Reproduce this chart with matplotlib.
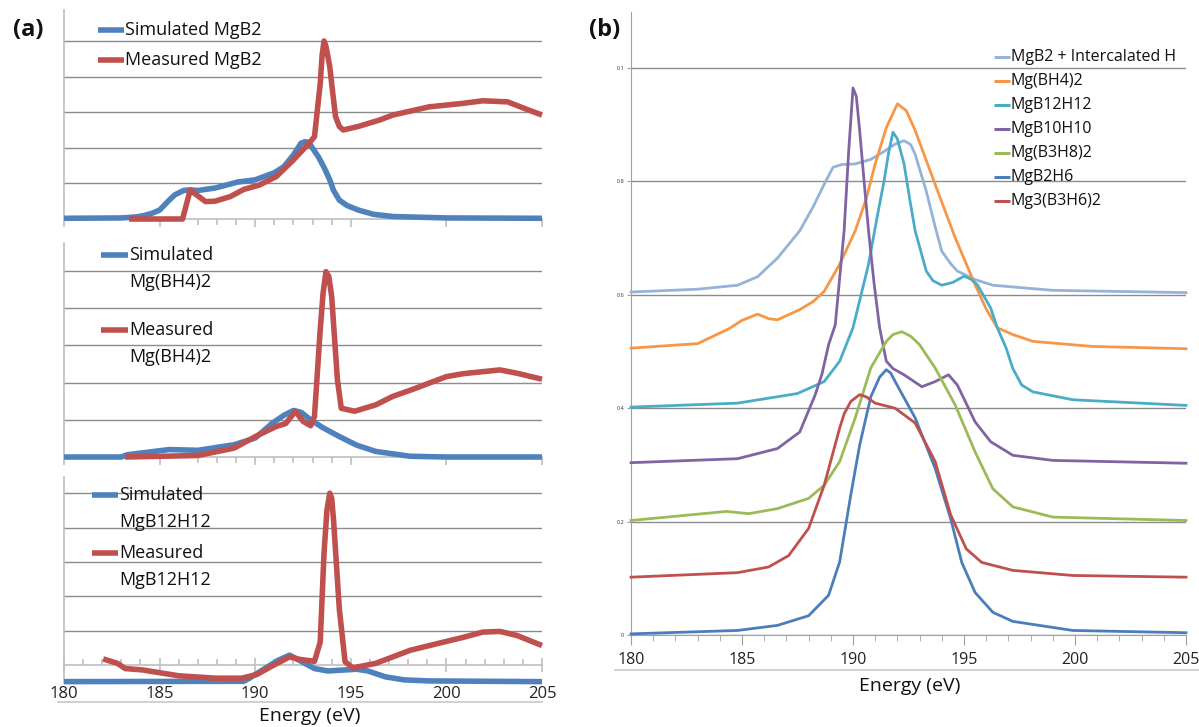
import matplotlib
matplotlib.use('Agg')
import matplotlib.pyplot as plt
from matplotlib.lines import Line2D

plt.rcParams['font.family'] = ['Open Sans', 'DejaVu Sans']

# ---------------- data: panel (a) ----------------
sim_mgb2_x = [180, 183, 183.8, 184.2, 184.6, 185, 185.5, 185.8, 186.25, 186.6, 187, 187.9, 189.1, 190, 191, 191.5, 192.0, 192.4, 192.6, 192.8, 193.3, 193.6, 193.9, 194.1, 194.4, 194.8, 195.4, 196.2, 197.2, 200, 205]
sim_mgb2_y = [0.02, 0.03, 0.06, 0.1, 0.16, 0.25, 0.53, 0.68, 0.8, 0.82, 0.8, 0.87, 1.04, 1.1, 1.3, 1.47, 1.8, 2.13, 2.17, 2.15, 1.75, 1.45, 1.1, 0.8, 0.53, 0.38, 0.25, 0.13, 0.07, 0.03, 0.02]
meas_mgb2_x = [183.4, 186.2, 186.6, 187.4, 187.9, 188.7, 189.4, 190.2, 191.1, 192.0, 192.8, 193.1, 193.4, 193.5, 193.6, 193.7, 193.9, 194.0, 194.2, 194.4, 194.6, 195.4, 196.5, 197.2, 199.1, 200.9, 201.9, 203.2, 204.3, 205]
meas_mgb2_y = [0.0, 0.0, 0.81, 0.49, 0.5, 0.63, 0.83, 0.95, 1.19, 1.66, 2.12, 2.31, 3.8, 4.6, 5.0, 4.85, 4.28, 3.8, 2.88, 2.6, 2.5, 2.6, 2.78, 2.92, 3.15, 3.25, 3.32, 3.29, 3.06, 2.92]

sim_bh4_x = [180, 183.0, 183.3, 185.5, 187, 188.9, 190, 190.9, 191.5, 192, 192.4, 192.9, 193.5, 194.4, 195.3, 196.3, 198.1, 200, 205]
sim_bh4_y = [0.0, 0.0, 0.06, 0.2, 0.18, 0.33, 0.51, 0.91, 1.12, 1.25, 1.2, 1.0, 0.8, 0.55, 0.32, 0.15, 0.02, 0.0, 0.0]
meas_bh4_x = [183.2, 187, 188.9, 190.2, 191.1, 191.6, 192.1, 192.5, 192.9, 193.1, 193.4, 193.55, 193.7, 193.85, 194.0, 194.3, 194.5, 195.2, 196.3, 197.2, 198.2, 200, 200.9, 202.8, 203.7, 205]
meas_bh4_y = [0, 0.04, 0.24, 0.6, 0.82, 0.9, 1.23, 0.96, 0.84, 1.09, 3.42, 4.4, 4.98, 4.85, 4.31, 2.08, 1.31, 1.23, 1.4, 1.63, 1.81, 2.16, 2.24, 2.34, 2.25, 2.09]

sim_b12_x = [180, 189.4, 189.7, 190.5, 191.2, 191.8, 192.3, 193.1, 193.8, 195.3, 195.9, 196.8, 197.8, 199.1, 205]
sim_b12_y = [-0.48, -0.47, -0.38, -0.1, 0.14, 0.29, 0.14, -0.1, -0.17, -0.12, -0.17, -0.34, -0.43, -0.46, -0.48]
meas_b12_x = [182.05, 182.8, 183.2, 184.1, 186, 187.9, 189.3, 190.1, 190.8, 191.8, 192.3, 193.1, 193.4, 193.6, 193.75, 193.9, 194.0, 194.1, 194.4, 194.7, 195.1, 196.3, 197.2, 198.1, 200, 200.9, 201.9, 202.8, 203.7, 205]
meas_b12_y = [0.18, 0.05, -0.1, -0.14, -0.31, -0.38, -0.38, -0.27, -0.05, 0.24, 0.17, 0.11, 0.67, 3.26, 4.5, 5.0, 4.85, 4.2, 1.63, 0.1, -0.08, 0.05, 0.24, 0.43, 0.69, 0.81, 0.96, 0.98, 0.86, 0.57]

labels_a = [("Simulated MgB2", "Measured MgB2"),
            ("Simulated\nMg(BH4)2", "Measured\nMg(BH4)2"),
            ("Simulated\nMgB12H12", "Measured\nMgB12H12")]

# ---------------- data: panel (b) ----------------
b_names = ["MgB2 + Intercalated H", "Mg(BH4)2", "MgB12H12", "MgB10H10", "Mg(B3H8)2", "MgB2H6", "Mg3(B3H6)2"]
b_colors = ["#95B3D7", "#F79646", "#4BACC6", "#8064A2", "#9BBB59", "#4A7EBB", "#C0504D"]

mgb2h_x = [180, 183, 184.8, 185.7, 186.6, 187.6, 188.2, 188.7, 189.1, 189.5, 190.1, 190.8, 191.4, 191.9, 192.3, 192.6, 192.8, 193.3, 193.7, 194.0, 194.4, 194.7, 195.5, 196.3, 199, 205]
mgb2h_y = [0.605, 0.61, 0.617, 0.632, 0.665, 0.713, 0.755, 0.795, 0.825, 0.83, 0.831, 0.839, 0.853, 0.866, 0.872, 0.865, 0.848, 0.783, 0.72, 0.677, 0.655, 0.642, 0.627, 0.617, 0.608, 0.604]
bh4_x = [180, 183, 184.4, 185.0, 185.7, 186.2, 186.6, 187.6, 188.2, 188.7, 189.4, 190.1, 190.6, 191, 191.5, 192, 192.4, 192.8, 193.7, 194.6, 195.5, 196.0, 196.5, 197.2, 198.1, 200.8, 205]
bh4_y = [0.506, 0.514, 0.54, 0.555, 0.566, 0.558, 0.556, 0.574, 0.588, 0.606, 0.654, 0.713, 0.77, 0.831, 0.895, 0.937, 0.925, 0.89, 0.795, 0.701, 0.618, 0.575, 0.542, 0.53, 0.518, 0.509, 0.505]
b12_x = [180, 184.8, 187.5, 188.7, 189.4, 190.0, 190.7, 191.1, 191.4, 191.6, 191.8, 192.0, 192.3, 192.55, 192.8, 193.3, 193.6, 194.0, 194.5, 195.0, 195.3, 195.6, 196.2, 196.5, 196.9, 197.2, 197.6, 198.1, 199.9, 205]
b12_y = [0.402, 0.409, 0.426, 0.447, 0.483, 0.542, 0.654, 0.74, 0.801, 0.85, 0.887, 0.875, 0.831, 0.77, 0.713, 0.642, 0.625, 0.617, 0.622, 0.633, 0.628, 0.618, 0.577, 0.542, 0.506, 0.47, 0.441, 0.429, 0.415, 0.405]
b10_x = [180, 184.8, 186.6, 187.6, 188.3, 188.6, 188.9, 189.2, 189.6, 189.8, 190.0, 190.15, 190.3, 190.5, 190.7, 190.95, 191.2, 191.5, 191.8, 192.3, 193.1, 193.7, 194.3, 194.7, 195.5, 196.2, 197.2, 199, 205]
b10_y = [0.304, 0.311, 0.329, 0.358, 0.424, 0.46, 0.512, 0.547, 0.713, 0.85, 0.965, 0.95, 0.89, 0.8, 0.713, 0.62, 0.542, 0.483, 0.47, 0.459, 0.438, 0.447, 0.459, 0.441, 0.376, 0.341, 0.317, 0.308, 0.303]
b3h8_x = [180, 184.3, 185.3, 186.6, 188, 188.7, 189.4, 190.1, 190.8, 191.5, 191.8, 192.2, 192.6, 193, 193.7, 194.6, 195.5, 196.3, 197.2, 199, 205]
b3h8_y = [0.202, 0.218, 0.214, 0.223, 0.241, 0.264, 0.306, 0.383, 0.471, 0.518, 0.53, 0.535, 0.527, 0.512, 0.471, 0.406, 0.323, 0.258, 0.226, 0.208, 0.202]
b2h6_x = [180, 184.8, 186.6, 188, 188.9, 189.4, 189.9, 190.3, 190.8, 191.2, 191.5, 191.7, 191.9, 192.8, 193.7, 194.4, 194.9, 195.5, 196.3, 197.2, 199.9, 205]
b2h6_y = [0.002, 0.008, 0.017, 0.034, 0.07, 0.129, 0.247, 0.335, 0.42, 0.455, 0.468, 0.462, 0.447, 0.383, 0.294, 0.205, 0.128, 0.075, 0.04, 0.024, 0.008, 0.004]
b3h6_x = [180, 184.8, 186.2, 187.1, 188, 188.7, 189.4, 189.6, 189.9, 190.3, 190.6, 191, 191.9, 192.8, 193.7, 194.4, 195.1, 195.8, 197.2, 199.9, 205]
b3h6_y = [0.102, 0.11, 0.12, 0.14, 0.188, 0.264, 0.365, 0.39, 0.412, 0.424, 0.42, 0.409, 0.4, 0.374, 0.306, 0.212, 0.152, 0.128, 0.114, 0.105, 0.102]

x_major = [180, 185, 190, 195, 200, 205]
b_yticks = [0, 0.2, 0.4, 0.6, 0.8, 1.0]
b_yticklabels = ["0", "0.2", "0.4", "0.6", "0.8", "0.1"]

# ---------------- figure ----------------
W, H = 1199, 727
fig = plt.figure(figsize=(W / 100, H / 100), dpi=100)


def fx(px):
    return px / W


def fy(py):
    return 1 - py / H


def axes_px(x0, y0, x1, y1):
    return fig.add_axes([x0 / W, 1 - y1 / H, (x1 - x0) / W, (y1 - y0) / H])


BLUE = "#4F81BD"
RED = "#C0504D"
GRID = "#8c8c8c"
SPINE = "#bfbfbf"
LW_A = 4.0

left_specs = [
    ((64, 10, 542, 219), (0, 5.87), sim_mgb2_x, sim_mgb2_y, meas_mgb2_x, meas_mgb2_y),
    ((64, 243, 542, 457), (0, 5.75), sim_bh4_x, sim_bh4_y, meas_bh4_x, meas_bh4_y),
    ((64, 477, 542, 683), (-0.52, 5.47), sim_b12_x, sim_b12_y, meas_b12_x, meas_b12_y),
]

for i, (box, ylim, sx, sy, mx, my) in enumerate(left_specs):
    ax = axes_px(*box)
    ax.set_xlim(180, 205)
    ax.set_ylim(*ylim)
    ax.plot(sx, sy, color=BLUE, lw=LW_A, clip_on=False, solid_capstyle='butt',
            solid_joinstyle='round', zorder=3)
    ax.plot(mx, my, color=RED, lw=LW_A, clip_on=False, solid_capstyle='butt',
            solid_joinstyle='round', zorder=4)
    ax.set_yticks([1, 2, 3, 4, 5])
    ax.tick_params(axis='y', length=0, labelleft=False)
    ax.yaxis.grid(True, color=GRID, lw=1)
    ax.set_axisbelow(True)
    for s in ('top', 'right'):
        ax.spines[s].set_visible(False)
    ax.spines['left'].set_color(SPINE)
    ax.spines['left'].set_linewidth(1.2)
    ax.spines['bottom'].set_color(SPINE)
    ax.spines['bottom'].set_linewidth(1.2)
    ax.set_xticks(x_major)
    if i < 2:
        ax.set_xticks([187, 188, 189, 191, 192, 193, 194], minor=True)
        ax.tick_params(axis='x', which='major', direction='out', length=6, color=SPINE, width=1.2,
                       labelbottom=False)
        ax.tick_params(axis='x', which='minor', direction='out', length=4, color=SPINE, width=1.2)
    else:
        ax.spines['bottom'].set_position(('data', 0))
        ax.set_xticks([v for v in range(181, 205) if v % 5 != 0], minor=True)
        ax.tick_params(axis='x', which='major', direction='inout', length=10, color=SPINE, width=1.2,
                       labelsize=12, pad=10, labelcolor='#222222')
        ax.tick_params(axis='x', which='minor', direction='in', length=4, color=SPINE, width=1.2)

# left legends
leg_a = [
    [(98, 124, 30, labels_a[0][0], BLUE), (98, 124, 60, labels_a[0][1], RED)],
    [(101, 128, 255, labels_a[1][0], BLUE), (101, 128, 330, labels_a[1][1], RED)],
    [(92, 118, 495, labels_a[2][0], BLUE), (92, 118, 553, labels_a[2][1], RED)],
]
for entries in leg_a:
    for (x0, x1, y, txt, col) in entries:
        fig.add_artist(Line2D([fx(x0), fx(x1)], [fy(y), fy(y)], color=col, lw=LW_A, solid_capstyle='butt'))
        lines = txt.split('\n')
        for k, line in enumerate(lines):
            fig.text(fx(x1 + 1), fy(y + 27 * k), line, fontsize=13, va='center', ha='left', color='#111111')

fig.add_artist(Line2D([fx(58), fx(542)], [fy(702), fy(702)], color='#c8c8c8', lw=1.2))
fig.text(fx(310), fy(716), "Energy (eV)", fontsize=14, ha='center', va='center', color='#111111')
fig.text(fx(28), fy(30), "(a)", fontsize=17, fontweight='bold', ha='center', va='center', color='#111111')

# ---------------- panel (b) ----------------
axb = axes_px(631, 12, 1186, 635)
axb.set_xlim(180, 205)
axb.set_ylim(0, 1.099)
series_b = [(mgb2h_x, mgb2h_y), (bh4_x, bh4_y), (b12_x, b12_y), (b10_x, b10_y),
            (b3h8_x, b3h8_y), (b2h6_x, b2h6_y), (b3h6_x, b3h6_y)]
for (xs, ys), col in zip(series_b, b_colors):
    axb.plot(xs, ys, color=col, lw=2.0, clip_on=False, solid_joinstyle='round', zorder=3)
axb.set_yticks(b_yticks)
axb.set_yticklabels(b_yticklabels)
axb.tick_params(axis='y', length=3, color='#a0a0a0', labelsize=4, pad=2, labelcolor='#333333')
axb.yaxis.grid(True, color=GRID, lw=1)
axb.set_axisbelow(True)
for s in ('top', 'right'):
    axb.spines[s].set_visible(False)
axb.spines['left'].set_color('#a0a0a0')
axb.spines['bottom'].set_color('#a0a0a0')
axb.set_xticks(x_major)
axb.set_xticks([v for v in range(181, 205) if v % 5 != 0], minor=True)
axb.tick_params(axis='x', which='major', direction='out', length=7, color='#a0a0a0',
                labelsize=11.5, pad=5, labelcolor='#222222')
axb.tick_params(axis='x', which='minor', direction='out', length=4, color='#a0a0a0')

for i, (name, col) in enumerate(zip(b_names, b_colors)):
    y = 57 + 24 * i
    fig.add_artist(Line2D([fx(994), fx(1010)], [fy(y), fy(y)], color=col, lw=2.2, solid_capstyle='butt'))
    fig.text(fx(1011), fy(y), name, fontsize=11.5, va='center', ha='left', color='#111111')

fig.add_artist(Line2D([fx(615), fx(1199)], [fy(670), fy(670)], color='#c8c8c8', lw=1.2))
fig.text(fx(910), fy(686), "Energy (eV)", fontsize=14, ha='center', va='center', color='#111111')
fig.text(fx(605), fy(30), "(b)", fontsize=17, fontweight='bold', ha='center', va='center', color='#111111')

fig.savefig("out.png", dpi=100)
